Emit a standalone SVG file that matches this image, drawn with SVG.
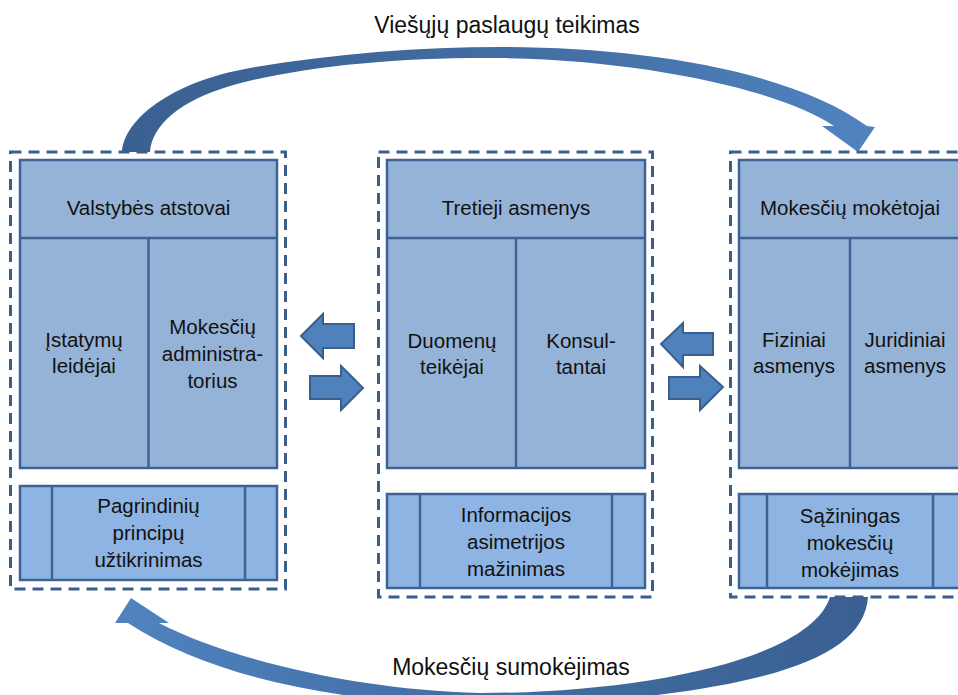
<svg xmlns="http://www.w3.org/2000/svg" width="958" height="695" viewBox="0 0 958 695">
  <style>
    text { font-family: "Liberation Sans", Arial, sans-serif; fill: #111; text-anchor: middle; }
    .t { font-size: 20.5px; }
    .title { font-size: 23px; }
    .frame { fill: none; stroke: #3A5F8C; stroke-width: 3; stroke-dasharray: 11 7; }
    .main { fill: #95B3D7; stroke: #3C6393; stroke-width: 2.5; }
    .sub { fill: #8DB4E2; stroke: #3C6393; stroke-width: 2.5; }
    .line { fill: none; stroke: #3C6393; stroke-width: 2.5; }
    .block { fill: #4F81BD; stroke: #3A5F8C; stroke-width: 2; stroke-linejoin: miter; }
  </style>
  <defs>
    <linearGradient id="gTop" x1="120" y1="0" x2="875" y2="0" gradientUnits="userSpaceOnUse">
      <stop offset="0" stop-color="#3A6091"/>
      <stop offset="0.6" stop-color="#4470A6"/>
      <stop offset="1" stop-color="#5083C0"/>
    </linearGradient>
    <linearGradient id="gBottom" x1="870" y1="0" x2="115" y2="0" gradientUnits="userSpaceOnUse">
      <stop offset="0" stop-color="#3A6091"/>
      <stop offset="0.6" stop-color="#4470A6"/>
      <stop offset="1" stop-color="#5083C0"/>
    </linearGradient>
  </defs>

  <rect width="958" height="695" fill="#fff"/>

  <g id="connectors">
    <!-- curved flow over the top: public services -->
    <path fill="url(#gTop)" d="M 122,152 C 124,120 170,82 250,68 C 330,54 420,47 500,47 C 640,47 790,70 867,126 L 875,127 L 858,152 L 822,126 L 834,126 C 785,92 650,60 500,58 C 400,57 300,66 230,86 C 180,101 152,125 150,152 Z"/>
    <!-- curved flow underneath: tax payment -->
    <path fill="url(#gBottom)" d="M 868,597 C 864,660 760,690 560,704 C 400,712 230,690 128,623 L 115,623 L 131,598 L 169,623 L 159,623 C 230,660 360,690 480,693 C 640,693 810,660 830,597 Z"/>
    <!-- block arrows between left and middle -->
    <path class="block" d="M 301,336 L 323,314 L 323,324 L 354,324 L 354,348 L 323,348 L 323,358 Z"/>
    <path class="block" d="M 363,388 L 341,366 L 341,376 L 310,376 L 310,399 L 341,399 L 341,410 Z"/>
    <!-- block arrows between middle and right -->
    <path class="block" d="M 661,344 L 683,323 L 683,333 L 713,333 L 713,355 L 683,355 L 683,367 Z"/>
    <path class="block" d="M 723,387 L 700,366 L 700,377 L 669,377 L 669,399 L 700,399 L 700,410 Z"/>
  </g>

  <g id="state-representatives">
    <rect class="frame" x="10.5" y="152" width="275" height="437"/>
    <rect class="main" x="20" y="160" width="257" height="308"/>
    <line class="line" x1="20" y1="238" x2="277" y2="238"/>
    <line class="line" x1="148.5" y1="238" x2="148.5" y2="468"/>
    <text class="t" x="148.5" y="215">Valstybės atstovai</text>
    <text class="t" x="84" y="347">Įstatymų</text>
    <text class="t" x="84" y="373">leidėjai</text>
    <text class="t" x="212.5" y="334">Mokesčių</text>
    <text class="t" x="212.5" y="361">administra-</text>
    <text class="t" x="212.5" y="388">torius</text>
    <rect class="sub" x="20" y="486" width="257" height="94"/>
    <line class="line" x1="52" y1="486" x2="52" y2="580"/>
    <line class="line" x1="245" y1="486" x2="245" y2="580"/>
    <text class="t" x="148.5" y="513">Pagrindinių</text>
    <text class="t" x="148.5" y="540">principų</text>
    <text class="t" x="148.5" y="567">užtikrinimas</text>
  </g>

  <g id="third-parties">
    <rect class="frame" x="378.5" y="152" width="274" height="445"/>
    <rect class="main" x="387" y="160" width="258" height="308"/>
    <line class="line" x1="387" y1="238" x2="645" y2="238"/>
    <line class="line" x1="516" y1="238" x2="516" y2="468"/>
    <text class="t" x="516" y="215">Tretieji asmenys</text>
    <text class="t" x="452" y="348">Duomenų</text>
    <text class="t" x="452" y="374">teikėjai</text>
    <text class="t" x="581" y="348">Konsul-</text>
    <text class="t" x="581" y="374">tantai</text>
    <rect class="sub" x="387" y="494" width="258" height="94"/>
    <line class="line" x1="420" y1="494" x2="420" y2="588"/>
    <line class="line" x1="612" y1="494" x2="612" y2="588"/>
    <text class="t" x="516" y="522">Informacijos</text>
    <text class="t" x="516" y="549">asimetrijos</text>
    <text class="t" x="516" y="576">mažinimas</text>
  </g>

  <g id="taxpayers">
    <rect class="frame" x="730.5" y="152" width="240" height="445"/>
    <rect class="main" x="739" y="160" width="222" height="308"/>
    <line class="line" x1="739" y1="238" x2="961" y2="238"/>
    <line class="line" x1="850" y1="238" x2="850" y2="468"/>
    <text class="t" x="850" y="215">Mokesčių mokėtojai</text>
    <text class="t" x="794" y="347">Fiziniai</text>
    <text class="t" x="794" y="373">asmenys</text>
    <text class="t" x="905" y="347">Juridiniai</text>
    <text class="t" x="905" y="373">asmenys</text>
    <rect class="sub" x="739" y="494" width="222" height="94"/>
    <line class="line" x1="767" y1="494" x2="767" y2="588"/>
    <line class="line" x1="933" y1="494" x2="933" y2="588"/>
    <text class="t" x="850" y="523">Sąžiningas</text>
    <text class="t" x="850" y="550">mokesčių</text>
    <text class="t" x="850" y="577">mokėjimas</text>
  </g>

  <g id="labels">
    <text class="title" x="507" y="33">Viešųjų paslaugų teikimas</text>
    <text class="title" x="511" y="675">Mokesčių sumokėjimas</text>
  </g>
</svg>
